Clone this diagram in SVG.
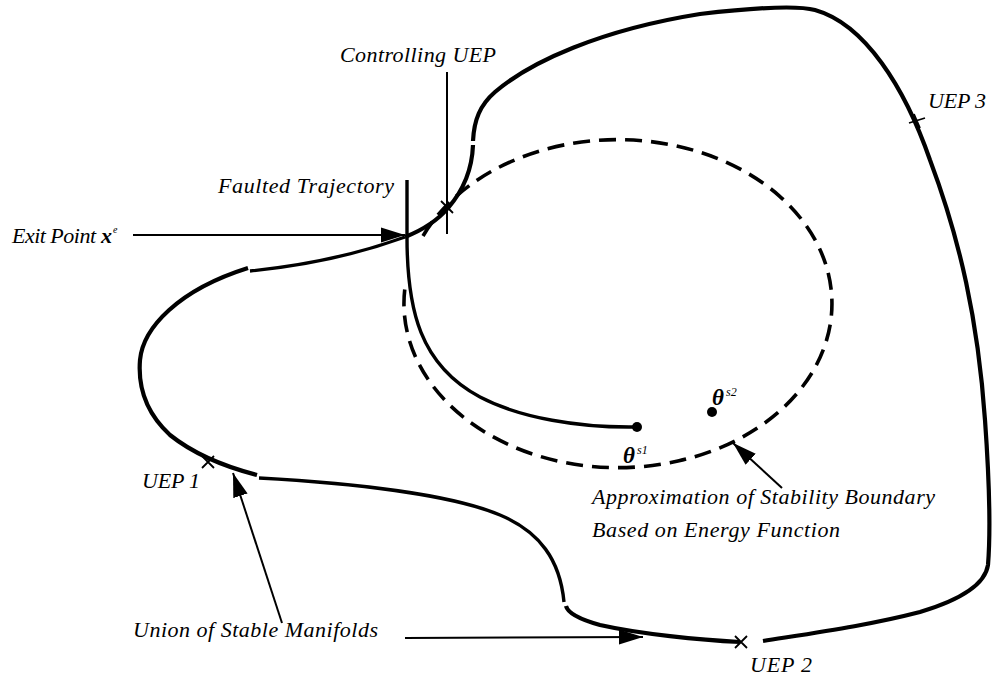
<svg xmlns="http://www.w3.org/2000/svg" width="994" height="679" viewBox="0 0 994 679">
<defs>
<style>
.t{font-family:"Liberation Serif","Times New Roman",serif;font-style:italic;font-size:22px;fill:#000}
.th{font-family:"Liberation Serif","Times New Roman",serif;font-style:italic;font-weight:bold;font-size:23px;fill:#000}
.sup{font-family:"Liberation Serif","Times New Roman",serif;font-style:italic;font-size:12px;fill:#000}
.b{stroke:#000;fill:none;stroke-width:4.2;stroke-linecap:butt;stroke-linejoin:round}
.b2{stroke:#000;fill:none;stroke-width:3.4}
.d{stroke:#000;fill:none;stroke-width:3.6;stroke-dasharray:17 9}
.l{stroke:#000;fill:none;stroke-width:2}
.x{stroke:#000;stroke-width:1.8}
</style>
<marker id="ah" markerUnits="userSpaceOnUse" markerWidth="26" markerHeight="16" refX="24" refY="8" orient="auto">
<path d="M0,0.5 L24,8 L0,15.5 Z" fill="#000"/>
</marker>
</defs>
<rect width="994" height="679" fill="#fff"/>
<g id="approximation-boundary">
<path class="d" d="M 423 236 A 214 164 0 1 1 406 281"/>
</g>
<g id="stability-boundary">
<path class="b2" d="M 250 271 C 290 267 350 257 405 237"/>
<path class="b" d="M 405 237 C 425 229 438 220 448 208 C 462 192 472 172 473 145"/>
<path class="b" d="M 473 141 C 474 120 480 105 495 92 C 530 62 600 30 700 14 C 760 7 800 6 815 10 C 865 24 905 88 930 160 C 960 240 978 320 985 420 C 990 490 990 540 988 565 C 985 585 960 600 920 612 C 870 625 820 632 763 641"/>
<path class="b" d="M 740 642 C 700 640 640 634 600 625 C 582 620 568 614 566 606"/>
<path class="b2" d="M 259 478 C 350 483 450 494 500 515 C 540 532 560 560 564 602"/>
<path class="b" d="M 257 475 C 230 468 195 455 170 435 C 145 412 138 385 140 360 C 143 328 178 290 248 268"/>
</g>
<g id="faulted-trajectory">
<path class="b2" d="M 407 180 L 407 237 C 407 310 420 365 480 397 C 520 418 580 428 637 427"/>
<circle cx="637" cy="427" r="5"/>
</g>
<g id="theta-s1">
<text class="th" x="623" y="463">θ</text>
<text class="sup" x="637" y="454">s1</text>
</g>
<g id="theta-s2">
<circle cx="712" cy="412" r="5"/>
<text class="th" x="712" y="405">θ</text>
<text class="sup" x="726" y="396">s2</text>
</g>
<g id="uep1">
<path class="x" d="M 202 456 L 214 468 M 202 468 L 214 456"/>
<text class="t" x="142" y="488" textLength="58" lengthAdjust="spacing">UEP 1</text>
</g>
<g id="uep2">
<path class="x" d="M 735 636 L 747 648 M 735 648 L 747 636"/>
<text class="t" x="750" y="672" textLength="62" lengthAdjust="spacing">UEP 2</text>
</g>
<g id="uep3">
<path class="x" d="M 909 123 L 925 118 M 914 114 L 920 128"/>
<text class="t" x="928" y="108" textLength="58" lengthAdjust="spacing">UEP 3</text>
</g>
<g id="controlling-uep">
<path class="x" d="M 441 213 L 453 201 M 441 201 L 453 213"/>
<text class="t" x="340" y="62" textLength="156" lengthAdjust="spacing">Controlling UEP</text>
</g>
<g id="faulted-label">
<text class="t" x="218" y="193" textLength="176" lengthAdjust="spacing">Faulted Trajectory</text>
</g>
<g id="exit-point">
<text class="t" x="12" y="243" textLength="84" lengthAdjust="spacing">Exit Point</text>
<text class="t" x="101" y="243" style="font-weight:bold">x</text>
<text class="sup" x="113" y="233" style="font-size:10px">e</text>
</g>
<g id="union-label">
<text class="t" x="133" y="637" textLength="245" lengthAdjust="spacing">Union of Stable Manifolds</text>
</g>
<g id="approx-label">
<text class="t" x="592" y="504" textLength="343" lengthAdjust="spacing">Approximation of Stability Boundary</text>
<text class="t" x="592" y="537" textLength="248" lengthAdjust="spacing">Based on Energy Function</text>
</g>
<g id="connectors">
<line class="l" x1="447" y1="72" x2="447" y2="234"/>
<line class="l" x1="133" y1="235" x2="405" y2="235" marker-end="url(#ah)"/>
<line class="l" x1="282" y1="623" x2="233" y2="473" marker-end="url(#ah)"/>
<line class="l" x1="405" y1="638" x2="643" y2="637" marker-end="url(#ah)"/>
<line class="l" x1="782" y1="488" x2="733" y2="443" marker-end="url(#ah)"/>
</g>
</svg>
